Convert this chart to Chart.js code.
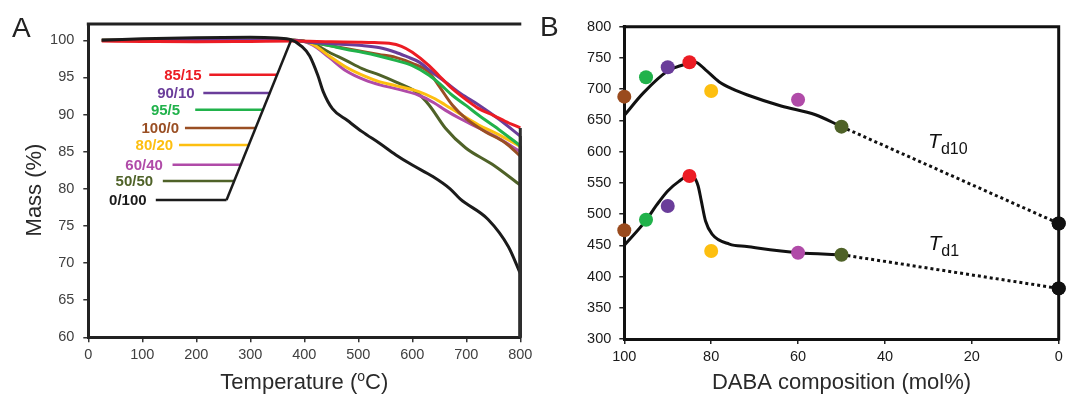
<!DOCTYPE html>
<html>
<head>
<meta charset="utf-8">
<script src="https://cdn.jsdelivr.net/npm/chart.js@4.4.1/dist/chart.umd.min.js"></script>
<style>
html, body { margin: 0; padding: 0; background: #fff; }
#wrap { position: relative; width: 1080px; height: 401px; overflow: hidden; }
canvas { position: absolute; top: 0; }
#cA { left: 0; }
#cB { left: 540px; }
</style>
</head>
<body>
<div id="wrap">
  <canvas id="cA" width="540" height="401"></canvas>
  <canvas id="cB" width="540" height="401"></canvas>
</div>
<script>
// ---------- Panel A: TGA curves (temperature °C / mass %) ----------
const t_0_100 = [25, 100, 200, 300, 350, 375, 395, 410, 425, 435, 452, 480, 507, 540, 569, 600, 637, 670, 689, 740, 778, 800];
const m_0_100 = [100, 100.2, 100.35, 100.4, 100.3, 100.1, 99.2, 97.9, 95.3, 93.1, 90.8, 89.2, 87.7, 86.1, 84.6, 83.2, 81.7, 80.0, 78.6, 75.9, 72.2, 68.6];

const t_85_15 = [25, 100, 200, 300, 380, 450, 500, 530, 557, 580, 600, 631, 650, 674, 700, 723, 750, 772, 800];
const m_85_15 = [99.9, 99.85, 99.8, 99.85, 99.9, 99.8, 99.75, 99.7, 99.6, 99.2, 98.4, 96.6, 95.2, 93.5, 92.0, 90.8, 89.9, 89.1, 88.2];

const t_90_10 = [25, 200, 380, 415, 460, 507, 540, 569, 590, 612, 635, 661, 690, 723, 760, 800];
const m_90_10 = [100, 100, 100, 99.7, 99.5, 99.3, 99.0, 98.4, 97.8, 97.1, 95.8, 94.4, 92.8, 91.3, 89.4, 87.1];

const t_95_5 = [25, 200, 380, 415, 446, 477, 507, 538, 569, 600, 631, 650, 674, 700, 723, 760, 800];
const m_95_5 = [100, 100, 100, 99.7, 99.3, 98.8, 98.4, 97.9, 97.3, 96.6, 95.3, 94.2, 92.6, 91.2, 89.9, 88.0, 85.8];

const t_100_0 = [25, 200, 380, 415, 446, 477, 507, 538, 569, 600, 631, 649, 674, 699, 735, 772, 800];
const m_100_0 = [100, 100, 100, 99.7, 99.3, 98.9, 98.5, 98.1, 97.7, 96.9, 95.7, 93.9, 91.3, 89.5, 87.7, 86.2, 84.4];

const t_80_20 = [25, 200, 380, 415, 446, 477, 514, 540, 569, 612, 640, 661, 690, 723, 760, 800];
const m_80_20 = [100, 100, 100, 99.5, 97.9, 96.4, 95.1, 94.4, 93.9, 93.1, 92.2, 91.3, 90.0, 88.6, 87.3, 85.7];

const t_60_40 = [25, 200, 380, 415, 446, 477, 514, 540, 569, 612, 640, 661, 690, 723, 760, 800];
const m_60_40 = [100, 100, 100, 99.4, 97.7, 95.9, 94.6, 94.0, 93.5, 92.6, 91.6, 90.6, 89.4, 88.2, 86.8, 85.0];

const t_50_50 = [25, 200, 380, 415, 446, 477, 507, 540, 569, 606, 631, 661, 699, 748, 800];
const m_50_50 = [100, 100, 100, 99.6, 98.4, 97.3, 96.2, 95.3, 94.4, 93.1, 91.3, 88.2, 85.5, 83.3, 80.5];

const massTicks = [60, 65, 70, 75, 80, 85, 90, 95, 100];
const tempTicks = [0, 100, 200, 300, 400, 500, 600, 700, 800];

// label annotation (leader lines joined by a slanted bracket)
const labelNames = ['85/15', '90/10', '95/5', '100/0', '80/20', '60/40', '50/50', '0/100'];
const labelColors = ['#ec1c24', '#6a3d9a', '#21b24b', '#9a4f24', '#fdbf10', '#b04ba8', '#4f6228', '#1b1b1b'];
const labelT = [210, 197, 170, 168, 157, 138, 120, 108];
const leaderFrom = [224, 213, 198, 179, 168, 156, 138, 125];
const leaderTo = [351, 337, 325, 311, 298, 283, 271, 256];
const leaderMass = [95.35, 92.9, 90.65, 88.2, 85.9, 83.25, 81.05, 78.5];
const bracketT = [256, 376];
const bracketM = [78.5, 100.1];

// ---------- Panel B: decomposition temperatures ----------
const daba = [100, 95, 90, 85, 80, 60, 50, 0];
const td10 = [688, 719, 735, 743, 697, 683, 640, 485];
const td1 = [474, 491, 513, 561, 441, 438, 435, 381];
const dabaColors = ['#9a4b1e', '#21b24b', '#6a3d9a', '#ec1c24', '#fdbf10', '#b04ba8', '#4f6228', '#111111'];

// hand-drawn trend curves
const fit10X = [100, 95.6, 90, 85.2, 83.7, 81.3, 78.2, 75, 71.8, 63.9, 56, 50];
const fit10Y = [658, 694, 729, 741, 743, 731, 712, 700, 691, 673, 659, 640];
const fit1X = [100, 95, 92.5, 90, 87.5, 85.2, 84, 83, 82.3, 81.3, 79.8, 75.8, 71.8, 60, 50];
const fit1Y = [450, 490, 515, 537, 552, 561, 559, 545, 522, 489, 468, 452, 448, 438, 435];

const tempTicksB = [300, 350, 400, 450, 500, 550, 600, 650, 700, 750, 800];
const dabaTicks = [0, 20, 40, 60, 80, 100];

const FONT = '"Liberation Sans", Arial, Helvetica, sans-serif';

function drawRich(ctx, parts, x, y, rotate) {
    ctx.save();
    ctx.translate(x, y);
    if (rotate) ctx.rotate(-Math.PI / 2);
    let total = 0;
    parts.forEach(p => { ctx.font = p.font; p.w = ctx.measureText(p.t).width; total += p.w; });
    let cx = -total / 2;
    ctx.textAlign = 'left';
    ctx.textBaseline = 'alphabetic';
    parts.forEach(p => {
        ctx.font = p.font;
        ctx.fillStyle = p.color || '#2a2a2a';
        ctx.fillText(p.t, cx, p.dy || 0);
        cx += p.w;
    });
    ctx.restore();
}

function tempTitle(color) {
    return [
        { t: 'Temperature (', font: '22px ' + FONT, color },
        { t: 'o', font: '14px ' + FONT, dy: -8, color },
        { t: 'C)', font: '22px ' + FONT, color }
    ];
}

// ---------- chart A ----------
const curvesA = [];
const dropsA = [];
function curveA(label, ts, ms, color) {
    curvesA.push({
        label: label,
        data: ts.map((t, i) => ({ x: t, y: ms[i] })),
        borderColor: color,
        borderWidth: 3,
        pointRadius: 0,
        cubicInterpolationMode: 'monotone',
        clip: 6
    });
    // end of the run: sample drops to the bottom of the scale
    const last = ts.length - 1;
    dropsA.push({
        data: [{ x: ts[last], y: ms[last] }, { x: ts[last], y: 60 }],
        borderColor: '#2e2e2e', borderWidth: 3, pointRadius: 0, clip: 6
    });
}

curveA('0/100', t_0_100, m_0_100, '#1b1b1b');
curveA('85/15', t_85_15, m_85_15, '#ec1c24');
curveA('90/10', t_90_10, m_90_10, '#6a3d9a');
curveA('95/5', t_95_5, m_95_5, '#21b24b');
curveA('100/0', t_100_0, m_100_0, '#9a4f24');
curveA('80/20', t_80_20, m_80_20, '#fdbf10');
curveA('60/40', t_60_40, m_60_40, '#b04ba8');
curveA('50/50', t_50_50, m_50_50, '#4f6228');

const datasetsA = [];
// bracket + leaders (drawn on top)
datasetsA.push({
    data: bracketT.map((t, i) => ({ x: t, y: bracketM[i] })),
    borderColor: '#1b1b1b', borderWidth: 2.5, pointRadius: 0, clip: 6
});
labelNames.forEach((n, i) => {
    datasetsA.push({
        data: [{ x: leaderFrom[i], y: leaderMass[i] }, { x: leaderTo[i], y: leaderMass[i] }],
        borderColor: labelColors[i], borderWidth: 2.5, pointRadius: 0, clip: 6
    });
});
datasetsA.push(...dropsA, ...curvesA);

const annotA = {
    id: 'annotA',
    afterDraw(chart) {
        const { ctx, chartArea: ca, scales: { x, y } } = chart;
        ctx.save();
        ctx.strokeStyle = '#222';
        ctx.lineWidth = 3;
        ctx.beginPath();
        ctx.moveTo(ca.left - 1.5, ca.top);
        ctx.lineTo(ca.right + 1, ca.top);
        ctx.stroke();

        ctx.font = 'bold 15px ' + FONT;
        ctx.textAlign = 'right';
        ctx.textBaseline = 'middle';
        labelNames.forEach((n, i) => {
            ctx.fillStyle = labelColors[i];
            ctx.fillText(n, x.getPixelForValue(labelT[i]), y.getPixelForValue(leaderMass[i]) + 1);
        });

        ctx.font = '28px ' + FONT;
        ctx.fillStyle = '#222';
        ctx.textAlign = 'left';
        ctx.textBaseline = 'alphabetic';
        ctx.fillText('A', 12, 37);
        ctx.restore();

        drawRich(ctx, tempTitle('#2a2a2a'), (ca.left + ca.right) / 2, 389, false);
        drawRich(ctx, [{ t: 'Mass (%)', font: '22px ' + FONT }], 41, 190, true);
    }
};

new Chart(document.getElementById('cA'), {
    type: 'line',
    data: { datasets: datasetsA },
    options: {
        responsive: false,
        animation: false,
        layout: { padding: { top: 24, right: 19.7, bottom: 0, left: 0 } },
        plugins: { legend: { display: false }, tooltip: { enabled: false } },
        scales: {
            x: {
                type: 'linear', min: 0, max: 800,
                afterFit: s => { s.height = 401 - 337.3; },
                afterBuildTicks: s => { s.ticks = tempTicks.map(v => ({ value: v })); },
                ticks: { color: '#404040', font: { family: FONT, size: 14.5 }, padding: 4 },
                grid: { drawOnChartArea: false, tickLength: 5, color: '#333', lineWidth: 1.5 },
                border: { color: '#222', width: 3 }
            },
            y: {
                min: 60, max: 102.2,
                afterFit: s => { s.width = 88.3; },
                afterBuildTicks: s => { s.ticks = massTicks.map(v => ({ value: v })); },
                ticks: { color: '#404040', font: { family: FONT, size: 14.5 }, padding: 9 },
                grid: { drawOnChartArea: false, tickLength: 5, color: '#333', lineWidth: 1.5 },
                border: { color: '#222', width: 3 }
            }
        }
    },
    plugins: [annotA]
});

// ---------- chart B ----------
const frameB = {
    id: 'frameB',
    afterDraw(chart) {
        const { ctx, chartArea: ca, scales: { x, y } } = chart;
        ctx.save();
        ctx.strokeStyle = '#111';
        ctx.lineWidth = 3;
        ctx.beginPath();
        ctx.moveTo(ca.left - 1.5, ca.top);
        ctx.lineTo(ca.right, ca.top);
        ctx.lineTo(ca.right, ca.bottom + 1.5);
        ctx.stroke();
        ctx.restore();

        // end points sit on the frame line, keep them above it
        ctx.save();
        ctx.fillStyle = dabaColors[7];
        [td10[7], td1[7]].forEach(v => {
            ctx.beginPath();
            ctx.arc(x.getPixelForValue(daba[7]), y.getPixelForValue(v), 7, 0, Math.PI * 2);
            ctx.fill();
        });
        ctx.font = '28px ' + FONT;
        ctx.fillStyle = '#222';
        ctx.fillText('B', 0, 36);
        ctx.restore();

        const sub = [
            { t: 'T', font: 'italic 21px ' + FONT, color: '#111' },
            { t: 'd10', font: '16px ' + FONT, dy: 6, color: '#111' }
        ];
        const sub1 = [
            { t: 'T', font: 'italic 21px ' + FONT, color: '#111' },
            { t: 'd1', font: '16px ' + FONT, dy: 6, color: '#111' }
        ];
        drawRich(chart.ctx, sub, x.getPixelForValue(29.9) + 19, y.getPixelForValue(605.8), false);
        drawRich(chart.ctx, sub1, x.getPixelForValue(29.9) + 15, y.getPixelForValue(442.5), false);

        drawRich(chart.ctx, [{ t: 'DABA composition (mol%)', font: '22px ' + FONT }], (ca.left + ca.right) / 2, 389, false);
        drawRich(chart.ctx, tempTitle('#2a2a2a'), 566, (ca.top + ca.bottom) / 2, true);
    }
};

new Chart(document.getElementById('cB'), {
    type: 'line',
    data: {
        datasets: [
            {
                data: daba.map((d, i) => ({ x: d, y: td10[i] })),
                showLine: false, pointRadius: 7, pointHoverRadius: 7, pointBorderWidth: 0,
                pointBackgroundColor: dabaColors, clip: 10
            },
            {
                data: daba.map((d, i) => ({ x: d, y: td1[i] })),
                showLine: false, pointRadius: 7, pointHoverRadius: 7, pointBorderWidth: 0,
                pointBackgroundColor: dabaColors, clip: 10
            },
            {
                data: fit10X.map((d, i) => ({ x: d, y: fit10Y[i] })),
                borderColor: '#111', borderWidth: 3, pointRadius: 0,
                cubicInterpolationMode: 'monotone', clip: 4
            },
            {
                data: fit1X.map((d, i) => ({ x: d, y: fit1Y[i] })),
                borderColor: '#111', borderWidth: 3, pointRadius: 0,
                cubicInterpolationMode: 'monotone', clip: 4
            },
            {
                data: [{ x: daba[6], y: td10[6] }, { x: daba[7], y: td10[7] }],
                borderColor: '#111', borderWidth: 3, borderDash: [3, 3], pointRadius: 0, clip: 4
            },
            {
                data: [{ x: daba[6], y: td1[6] }, { x: daba[7], y: td1[7] }],
                borderColor: '#111', borderWidth: 3, borderDash: [3, 3], pointRadius: 0, clip: 4
            }
        ]
    },
    options: {
        responsive: false,
        animation: false,
        layout: { padding: { top: 26.7, right: 21.3, bottom: 0, left: 0 } },
        plugins: { legend: { display: false }, tooltip: { enabled: false } },
        scales: {
            x: {
                type: 'linear', min: 0, max: 100, reverse: true,
                afterFit: s => { s.height = 401 - 339; },
                afterBuildTicks: s => { s.ticks = dabaTicks.map(v => ({ value: v })); },
                ticks: { color: '#1a1a1a', font: { family: FONT, size: 14.5 }, padding: 4 },
                grid: { drawOnChartArea: false, tickLength: 5, color: '#222', lineWidth: 1.5 },
                border: { color: '#111', width: 3 }
            },
            y: {
                min: 300, max: 800,
                afterFit: s => { s.width = 84.3; },
                afterBuildTicks: s => { s.ticks = tempTicksB.map(v => ({ value: v })); },
                ticks: { color: '#1a1a1a', font: { family: FONT, size: 14.5 }, padding: 8 },
                grid: { drawOnChartArea: false, tickLength: 5, color: '#222', lineWidth: 1.5 },
                border: { color: '#111', width: 3 }
            }
        }
    },
    plugins: [frameB]
});
</script>
</body>
</html>
